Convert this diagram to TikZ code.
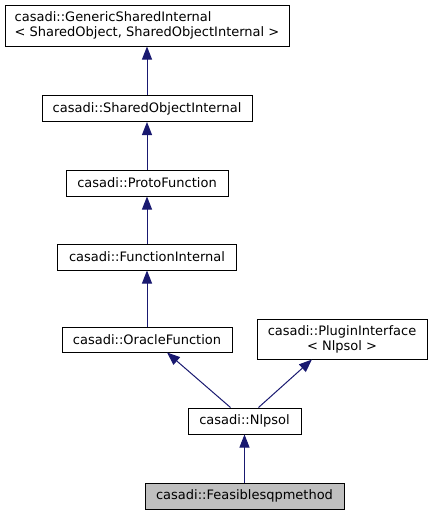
\documentclass[tikz,border=0pt]{standalone}
\usepackage{fontspec}
\setmainfont{DejaVu Sans}
\usetikzlibrary{arrows.meta}
\definecolor{edgeblue}{HTML}{191970}
\definecolor{selgray}{HTML}{BFBFBF}
\tikzset{
  classbox/.style={draw,line width=1pt,fill=white,inner sep=0pt,font=\fontsize{13}{15}\selectfont},
  inherit/.style={draw=edgeblue,line width=1pt,{Triangle[length=13pt,width=10pt,fill=edgeblue]}-}
}
\begin{document}
\begin{tikzpicture}[x=1pt,y=-1pt]
	\useasboundingbox (0,0) rectangle (433,515);
	\begin{scope}[every node/.style={classbox}]
		\node[minimum width=284pt,minimum height=41pt,align=left] (GSI) at (147,25.5) {casadi::GenericSharedInternal\\{<} SharedObject, SharedObjectInternal {>}};
		\node[minimum width=210pt,minimum height=26pt] (SOI) at (147,108.5) {casadi::SharedObjectInternal};
		\node[minimum width=162pt,minimum height=26pt] (PF) at (147,183) {casadi::ProtoFunction};
		\node[minimum width=179pt,minimum height=26pt] (FI) at (147,257) {casadi::FunctionInternal};
		\node[minimum width=170pt,minimum height=25pt] (OF) at (147,339.5) {casadi::OracleFunction};
		\node[minimum width=170pt,minimum height=40pt,align=center] (PI) at (342,339) {casadi::PluginInterface\\{<} Nlpsol {>}};
		\node[minimum width=113pt,minimum height=26pt] (NS) at (244.5,421) {casadi::Nlpsol};
		\node[minimum width=199pt,minimum height=26pt,fill=selgray] (FSQP) at (244.5,496) {casadi::Feasiblesqpmethod};
	\end{scope}
	
	\begin{scope}
		\path[inherit] (GSI.south -| SOI.north) -- (SOI.north);
		\path[inherit] (SOI) -- (PF);
		\path[inherit] (PF) -- (FI);
		\path[inherit] (FI) -- (OF);
		\path[inherit] (OF.south) ++(20,0) -- ([xshift=-14pt]NS.north);
		\path[inherit] ([xshift=-30pt]PI.south) -- ([xshift=14pt]NS.north);
		\path[inherit] (NS) -- (FSQP);
	\end{scope}
\end{tikzpicture}
\end{document}
